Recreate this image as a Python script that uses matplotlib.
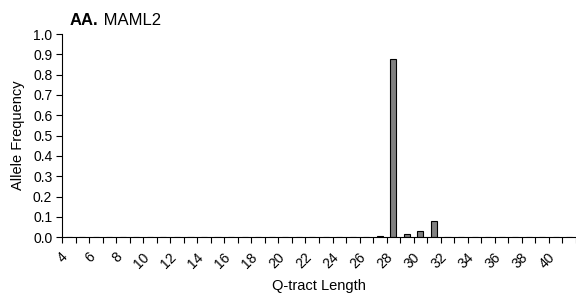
import numpy as np
import matplotlib.pyplot as plt
import matplotlib.transforms as mtransforms

plt.rcParams['font.family'] = ['Liberation Sans', 'DejaVu Sans']

# Q-tract lengths 4..41, allele frequencies (MAML2)
lengths = list(range(4, 42))
freq_values = {27: 0.007, 28: 0.875, 29: 0.013, 30: 0.03, 31: 0.078}
freqs = [freq_values.get(q, 0.0) for q in lengths]
tick_labels = [str(q) if q % 2 == 0 else '' for q in lengths]

fig = plt.figure(figsize=(5.76, 2.99), dpi=100)
ax = fig.add_axes([0.1076, 0.207, 0.8924, 0.679])

x = np.arange(len(lengths))
ax.bar(x, freqs, width=0.45, color='#808080', edgecolor='black', linewidth=0.8)

ax.set_xlim(-0.5, len(lengths) - 0.5)
ax.set_ylim(0, 1.0)
ax.set_yticks(np.arange(0, 1.01, 0.1))
ax.set_yticklabels([f'{v:.1f}' for v in np.arange(0, 1.01, 0.1)], fontsize=10)

# category labels (no tick marks) + boundary ticks
ax.set_xticks(x)
ax.set_xticklabels(tick_labels, rotation=45, ha='right', va='center',
                   rotation_mode='anchor', fontsize=10)
ax.tick_params(axis='x', which='major', length=0, pad=13)
shift = mtransforms.ScaledTranslation(-3 / 100, 0, fig.dpi_scale_trans)
for lab in ax.get_xticklabels():
    lab.set_transform(lab.get_transform() + shift)
ax.set_xticks(np.arange(-0.5, len(lengths) - 0.4, 1), minor=True)
ax.tick_params(axis='x', which='minor', length=4, width=0.8, direction='out')
ax.tick_params(axis='y', length=4, width=0.8, pad=3)

for side in ['top', 'right']:
    ax.spines[side].set_visible(False)
for side in ['left', 'bottom']:
    ax.spines[side].set_linewidth(0.8)

ax.set_xlabel('Q-tract Length', fontsize=10.5, va='center')
ax.xaxis.set_label_coords(0.5, -(286 - 237) / 203)
ax.set_ylabel('Allele Frequency', fontsize=10.5, labelpad=6)

t = fig.text(70 / 576, 1 - 25 / 299, 'AA.', fontsize=12, fontweight='bold',
             va='baseline', ha='left')
ax.annotate(' MAML2', xy=(1, 0), xycoords=t, fontsize=12, va='bottom', ha='left',
            annotation_clip=False)

fig.savefig('out.png', dpi=100)
